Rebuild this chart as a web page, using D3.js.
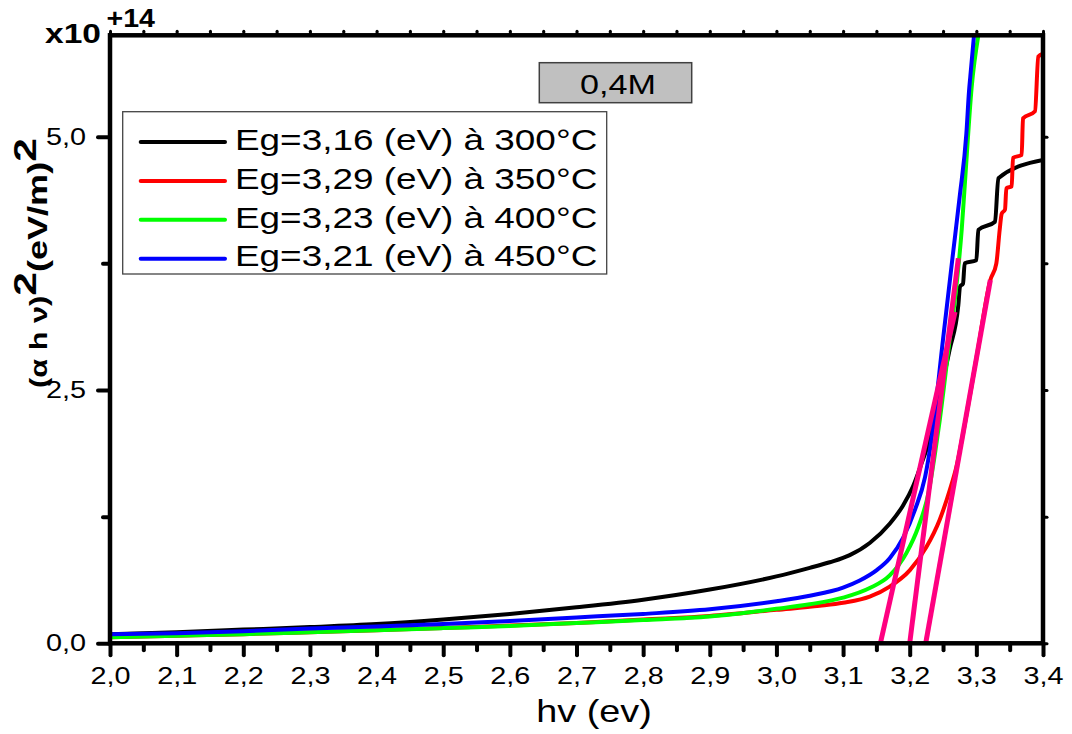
<!DOCTYPE html>
<html>
<head>
<meta charset="utf-8">
<script src="https://cdn.jsdelivr.net/npm/d3@7"></script>
<style>
  body { margin: 0; background: #fff; }
  svg { display: block; }
  text { font-family: "Liberation Sans", Arial, sans-serif; fill: #000; }
</style>
</head>
<body>
<svg id="chart" width="1072" height="734"></svg>
<script>
// (α h ν)² in units of 1e14 (eV/m)², versus photon energy hν in eV
const series300 = [
  [2.00, 0.09], [2.10, 0.11], [2.20, 0.135], [2.30, 0.16], [2.40, 0.19], [2.50, 0.235],
  [2.60, 0.29], [2.70, 0.355], [2.80, 0.43], [2.90, 0.53], [3.00, 0.66], [3.05, 0.745],
  [3.08, 0.80], [3.11, 0.87], [3.14, 0.99], [3.17, 1.18], [3.19, 1.36], [3.205, 1.55],
  [3.218, 1.78], [3.228, 1.97], [3.245, 2.45], [3.26, 2.9], [3.273, 3.34], [3.2755, 3.52],
  [3.280, 3.55], [3.2825, 3.75], [3.300, 3.78], [3.303, 4.08], [3.328, 4.16], [3.333, 4.59],
  [3.400, 4.77]
];
const series350 = [
  [2.00, 0.06], [2.10, 0.075], [2.20, 0.09], [2.30, 0.11], [2.40, 0.13], [2.50, 0.15],
  [2.60, 0.175], [2.70, 0.20], [2.80, 0.235], [2.90, 0.27], [3.00, 0.33], [3.065, 0.37],
  [3.10, 0.40], [3.14, 0.46], [3.17, 0.56], [3.20, 0.72], [3.225, 0.95], [3.245, 1.22],
  [3.26, 1.51], [3.27, 1.74], [3.28, 2.07], [3.30, 2.81], [3.321, 3.585], [3.330, 3.75],
  [3.335, 4.08], [3.338, 4.24], [3.343, 4.28], [3.345, 4.49], [3.353, 4.51], [3.355, 4.79],
  [3.368, 4.82], [3.370, 5.18], [3.388, 5.25], [3.393, 5.79], [3.400, 5.82]
];
const series400 = [
  [2.00, 0.06], [2.10, 0.075], [2.20, 0.09], [2.30, 0.11], [2.40, 0.13], [2.50, 0.15],
  [2.60, 0.17], [2.70, 0.20], [2.80, 0.23], [2.90, 0.265], [3.00, 0.34], [3.05, 0.385],
  [3.10, 0.45], [3.14, 0.545], [3.17, 0.67], [3.195, 0.89], [3.213, 1.15], [3.228, 1.48],
  [3.238, 1.875], [3.245, 2.2], [3.26, 3.0], [3.27, 3.52], [3.278, 4.08], [3.2825, 4.51],
  [3.293, 5.49], [3.303, 6.0]
];
const series450 = [
  [2.00, 0.09], [2.10, 0.10], [2.20, 0.12], [2.30, 0.145], [2.40, 0.165], [2.50, 0.19],
  [2.60, 0.22], [2.70, 0.255], [2.80, 0.29], [2.90, 0.335], [3.00, 0.415], [3.05, 0.47],
  [3.10, 0.55], [3.125, 0.62], [3.15, 0.72], [3.17, 0.84], [3.19, 1.04], [3.208, 1.32],
  [3.223, 1.64], [3.2335, 2.05], [3.25, 3.0], [3.265, 3.85], [3.275, 4.41], [3.285, 5.03],
  [3.289, 5.45], [3.291, 5.6], [3.2965, 6.0]
];

// Linear extrapolations of the absorption edge down to the energy axis
const fitLines = [
  [[3.156, 0], [3.268, 3.27]],
  [[3.200, 0], [3.273, 3.80]],
  [[3.224, 0], [3.321, 3.585]]
];

const legendLabels = [
  "Eg=3,16 (eV) à 300°C",
  "Eg=3,29 (eV) à 350°C",
  "Eg=3,23 (eV) à 400°C",
  "Eg=3,21 (eV) à 450°C"
];
const concentrationLabel = "0,4M";

const xTickValues = [2.0, 2.1, 2.2, 2.3, 2.4, 2.5, 2.6, 2.7, 2.8, 2.9, 3.0, 3.1, 3.2, 3.3, 3.4];
const xMinorTickValues = [2.05, 2.15, 2.25, 2.35, 2.45, 2.55, 2.65, 2.75, 2.85, 2.95, 3.05, 3.15, 3.25, 3.35];
const yTickValues = [0, 2.5, 5.0];
const yMinorTickValues = [1.25, 3.75];

// ---------------------------------------------------------------------------
const svg = d3.select("#chart");
const plotLeft = 110, plotRight = 1043, plotTop = 35.3, plotBottom = 643.3;
const x = d3.scaleLinear().domain([2.0, 3.4]).range([plotLeft, plotRight]);
const y = d3.scaleLinear().domain([0, 6]).range([plotBottom, plotTop]);
const stretch = 1.2; // wide lettering

const locale = d3.formatLocale({ decimal: ",", thousands: ".", grouping: [3], currency: ["", " €"] });
const fmt = locale.format(".1f");

svg.append("defs").append("clipPath").attr("id", "plotClip")
  .append("rect").attr("x", plotLeft).attr("y", plotTop)
  .attr("width", plotRight - plotLeft).attr("height", plotBottom - plotTop);

const plot = svg.append("g").attr("clip-path", "url(#plotClip)");
const line = d3.line().x(d => x(d[0])).y(d => y(d[1])).curve(d3.curveMonotoneX);

const seriesList = [
  { data: series300, color: "#000000" },
  { data: series350, color: "#ff0000" },
  { data: series400, color: "#00ff00" },
  { data: series450, color: "#0000ff" }
];

plot.selectAll("path.curve").data(seriesList).join("path")
  .attr("class", "curve")
  .attr("d", s => line(s.data))
  .attr("fill", "none")
  .attr("stroke", s => s.color)
  .attr("stroke-width", 4)
  .attr("stroke-linejoin", "round");

const straight = d3.line().x(d => x(d[0])).y(d => y(d[1]));
plot.selectAll("path.fit").data(fitLines).join("path")
  .attr("class", "fit")
  .attr("d", straight)
  .attr("fill", "none")
  .attr("stroke", "#ff0080")
  .attr("stroke-width", 5);

// ---- axes -----------------------------------------------------------------
function styleTicks(g, w) {
  g.select(".domain").remove();
  g.selectAll(".tick line").attr("stroke", "#000").attr("stroke-width", w).attr("stroke-linecap", "round");
}

const xAxis = svg.append("g").attr("transform", `translate(0,${plotBottom})`)
  .call(d3.axisBottom(x).tickValues(xTickValues).tickSize(12).tickPadding(12).tickFormat(fmt));
styleTicks(xAxis, 4);
xAxis.selectAll(".tick text")
  .attr("font-size", 24)
  .attr("font-family", "Liberation Sans, Arial, sans-serif")
  .attr("transform", `scale(${stretch},1)`);

const xMinor = svg.append("g").attr("transform", `translate(0,${plotBottom})`)
  .call(d3.axisBottom(x).tickValues(xMinorTickValues).tickSize(7).tickFormat(""));
styleTicks(xMinor, 4);

const yAxis = svg.append("g").attr("transform", `translate(${plotLeft},0)`)
  .call(d3.axisLeft(y).tickValues(yTickValues).tickSize(12).tickPadding(0).tickFormat(fmt));
styleTicks(yAxis, 4);
yAxis.selectAll(".tick text")
  .attr("font-size", 24)
  .attr("font-family", "Liberation Sans, Arial, sans-serif")
  .attr("x", null)
  .attr("transform", `translate(-24,0) scale(${stretch},1)`);

const yMinor = svg.append("g").attr("transform", `translate(${plotLeft},0)`)
  .call(d3.axisLeft(y).tickValues(yMinorTickValues).tickSize(7).tickFormat(""));
styleTicks(yMinor, 4);

// small ticks on the top and right frame edges
const xTop = svg.append("g").attr("transform", `translate(0,${plotTop})`)
  .call(d3.axisTop(x).tickValues(xTickValues.concat(xMinorTickValues)).tickSize(4).tickFormat(""));
styleTicks(xTop, 3);
const yRight = svg.append("g").attr("transform", `translate(${plotRight},0)`)
  .call(d3.axisRight(y).tickValues(yTickValues.concat(yMinorTickValues)).tickSize(4).tickFormat(""));
styleTicks(yRight, 3);

// frame
svg.append("rect")
  .attr("x", plotLeft).attr("y", plotTop).attr("width", plotRight - plotLeft).attr("height", plotBottom - plotTop)
  .attr("fill", "none").attr("stroke", "#000").attr("stroke-width", 4.5);

// ---- axis titles ------------------------------------------------------------
svg.append("text")
  .attr("transform", `translate(594,722) scale(1.22,1)`)
  .attr("text-anchor", "middle")
  .attr("font-size", 31)
  .text("hv (ev)");

const yTitle = svg.append("text").attr("font-weight", "bold");
yTitle.append("tspan").attr("font-size", 23).text("(α h ν)");
yTitle.append("tspan").attr("dy", -11).attr("font-size", 32).text("2");
yTitle.append("tspan").attr("dy", 11).attr("font-size", 27).text("(eV/m)");
yTitle.append("tspan").attr("dy", -11).attr("font-size", 32).text("2");
{
  const natural = yTitle.node().getComputedTextLength();
  const target = 250;
  yTitle.attr("transform", `translate(47,388) rotate(-90) scale(${target / natural},1)`);
}

// exponent of the value axis
svg.append("text").attr("font-weight", "bold").attr("font-size", 27.5)
  .attr("transform", "translate(45,42.7) scale(1.22,1)")
  .text("x10");
svg.append("text").attr("font-weight", "bold").attr("font-size", 25.5)
  .attr("transform", "translate(106.5,26.7) scale(1.12,1)")
  .text("+14");

// ---- legend -------------------------------------------------------------------
const legend = svg.append("g");
legend.append("rect")
  .attr("x", 122.7).attr("y", 111.7).attr("width", 484).attr("height", 162.3)
  .attr("fill", "#fff").attr("stroke", "#444").attr("stroke-width", 1.3);
const rows = legend.selectAll("g.row").data(seriesList).join("g")
  .attr("class", "row")
  .attr("transform", (d, i) => `translate(0,${139 + i * 38.9})`);
rows.append("line")
  .attr("x1", 140.7).attr("x2", 225).attr("y1", 3).attr("y2", 3)
  .attr("stroke", d => d.color).attr("stroke-width", 4).attr("stroke-linecap", "round");
rows.append("text")
  .attr("transform", "translate(235,10.7) scale(1.23,1)")
  .attr("font-size", 30)
  .text((d, i) => legendLabels[i]);

// ---- concentration tag ---------------------------------------------------------
svg.append("rect")
  .attr("x", 539.3).attr("y", 62.7).attr("width", 152.4).attr("height", 40)
  .attr("fill", "#c0c0c0").attr("stroke", "#404040").attr("stroke-width", 1.5);
svg.append("text")
  .attr("transform", "translate(618,93.5) scale(1.22,1)")
  .attr("text-anchor", "middle")
  .attr("font-size", 28)
  .text(concentrationLabel);
</script>
</body>
</html>
